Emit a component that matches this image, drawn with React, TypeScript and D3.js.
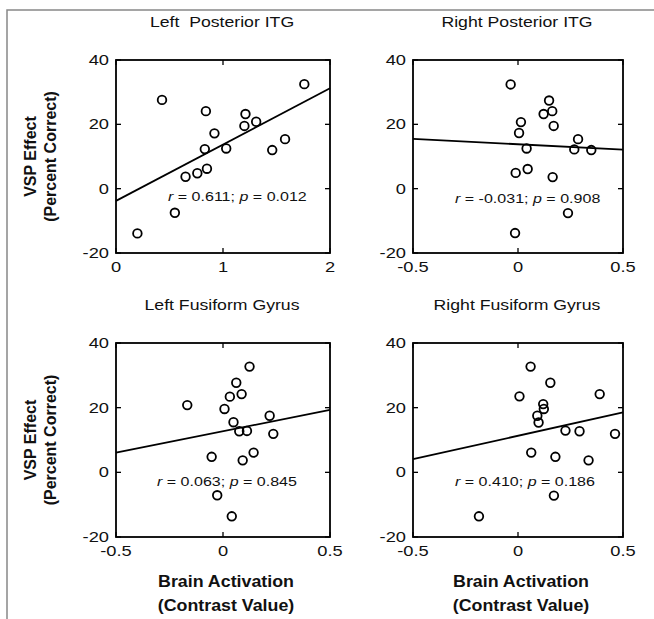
import * as d3 from 'd3'

// panel titles and stats
const titles = ['Left  Posterior ITG', 'Right Posterior ITG', 'Left Fusiform Gyrus', 'Right Fusiform Gyrus']
const rValues = ['0.611', '-0.031', '0.063', '0.410']
const pValues = ['0.012', '0.908', '0.845', '0.186']

// x domains / ticks
const xDomains: [number, number][] = [[0, 2], [-0.5, 0.5], [-0.5, 0.5], [-0.5, 0.5]]
const xTickSets = [[0, 1, 2], [-0.5, 0, 0.5], [-0.5, 0, 0.5], [-0.5, 0, 0.5]]
const yTicks = [-20, 0, 20, 40]

// brain activation (x) and VSP effect (y), per panel
const lpX = [0.20, 0.43, 0.55, 0.65, 0.76, 0.85, 0.83, 0.84, 0.92, 1.03, 1.20, 1.21, 1.31, 1.46, 1.58, 1.76]
const lpY = [-13.9, 27.6, -7.5, 3.7, 4.8, 6.2, 12.3, 24.1, 17.2, 12.5, 19.5, 23.2, 20.8, 12.0, 15.4, 32.5]
const rpX = [-0.035, 0.014, 0.005, 0.041, -0.011, 0.046, -0.014, 0.122, 0.148, 0.163, 0.17, 0.165, 0.238, 0.268, 0.286, 0.349]
const rpY = [32.4, 20.7, 17.3, 12.5, 4.9, 6.1, -13.8, 23.2, 27.4, 24.1, 19.5, 3.6, -7.6, 12.2, 15.4, 12.0]
const lfX = [-0.167, 0.124, 0.062, 0.087, 0.032, 0.007, 0.049, 0.076, 0.112, 0.218, 0.235, -0.053, 0.092, 0.143, -0.027, 0.041]
const lfY = [20.8, 32.7, 27.7, 24.2, 23.4, 19.6, 15.5, 12.7, 12.8, 17.5, 11.9, 4.8, 3.7, 6.1, -7.1, -13.6]
const rfX = [0.06, 0.007, 0.154, 0.12, 0.123, 0.092, 0.098, 0.226, 0.293, 0.462, 0.389, 0.063, 0.178, 0.336, 0.171, -0.186]
const rfY = [32.7, 23.5, 27.7, 21.1, 19.6, 17.5, 15.4, 12.9, 12.7, 11.9, 24.2, 6.1, 4.8, 3.7, -7.2, -13.6]

// fitted lines: intercept / slope
const intercepts = [-3.8, 13.8, 12.7, 11.3]
const slopes = [17.5, -3.3, 13.2, 14.5]

const xs = [lpX, rpX, lfX, rfX]
const ys = [lpY, rpY, lfY, rfY]

// layout
const cols = [{ left: 116, width: 214 }, { left: 413, width: 210 }]
const rows = [{ top: 60, height: 193 }, { top: 343, height: 194 }]
const statPos = [[168, 201], [455, 203], [157, 486], [455, 486]]

const FONT = '"Liberation Sans", Arial, Helvetica, sans-serif'

// the figure is stretched sideways, so horizontal text gets a scaleX
function HText({ x, y, sx, anchor = 'start', size, bold = false, children }: any) {
  return (
    <text
      transform={`translate(${x},${y}) scale(${sx},1)`}
      textAnchor={anchor}
      fontSize={size}
      fontWeight={bold ? 'bold' : 'normal'}
      fill="#111"
      style={{ whiteSpace: 'pre' }}
    >
      {children}
    </text>
  )
}

function Panel({ i }: { i: number }) {
  const c = cols[i % 2]
  const r = rows[Math.floor(i / 2)]
  const x = d3.scaleLinear().domain(xDomains[i]).range([c.left, c.left + c.width])
  const y = d3.scaleLinear().domain([-20, 40]).range([r.top + r.height, r.top])
  const pts = xs[i].map((v, k) => [v, ys[i][k]])
  const [x0, x1] = xDomains[i]
  const line = d3.line<number>().x(d => x(d)).y(d => y(intercepts[i] + slopes[i] * d))
  const tk = 5
  const right = c.left + c.width
  const bottom = r.top + r.height
  return (
    <g fontFamily={FONT}>
      <HText x={c.left + c.width / 2 - 1} y={r.top - 33} sx={1.28} anchor="middle" size={13.8}>
        {titles[i]}
      </HText>
      {yTicks.map(t => (
        <g key={'y' + t}>
          <line x1={c.left} x2={c.left + tk} y1={y(t)} y2={y(t)} stroke="#000" strokeWidth={1.3} />
          <line x1={right} x2={right - tk} y1={y(t)} y2={y(t)} stroke="#000" strokeWidth={1.3} />
          <HText x={c.left - 7} y={y(t) + 5} sx={1.28} anchor="end" size={14.3}>{t}</HText>
        </g>
      ))}
      {xTickSets[i].map(t => (
        <g key={'x' + t}>
          <line x1={x(t)} x2={x(t)} y1={bottom} y2={bottom - tk} stroke="#000" strokeWidth={1.3} />
          <line x1={x(t)} x2={x(t)} y1={r.top} y2={r.top + tk} stroke="#000" strokeWidth={1.3} />
          <HText x={x(t)} y={bottom + 19} sx={1.28} anchor="middle" size={14.3}>{t}</HText>
        </g>
      ))}
      <path d={line([x0, x1]) || ''} stroke="#000" strokeWidth={1.8} fill="none" />
      {pts.map(([px, py], k) => (
        <circle key={k} cx={x(px)} cy={y(py)} r={4.3} fill="none" stroke="#000" strokeWidth={1.8} />
      ))}
      <HText x={statPos[i][0]} y={statPos[i][1]} sx={1.17} size={13.7}>
        <tspan fontStyle="italic">r</tspan> = {rValues[i]}; <tspan fontStyle="italic">p</tspan> = {pValues[i]}
      </HText>
      <rect x={c.left} y={r.top} width={c.width} height={r.height} fill="none" stroke="#000" strokeWidth={1.8} />
    </g>
  )
}

export default function App() {
  return (
    <svg width={654} height={619} style={{ position: 'absolute', left: 0, top: 0, background: '#fff' }}>
      <rect x={0} y={0} width={654} height={619} fill="#fff" />
      <path d="M7,619 V10 H654" stroke="#888" strokeWidth={1.5} fill="none" />
      {[0, 1, 2, 3].map(i => <Panel key={i} i={i} />)}
      {rows.map((r, k) => (
        <g key={'yl' + k} fontFamily={FONT} fontWeight="bold" fontSize={16} fill="#111" textAnchor="middle">
          <text transform={`translate(36,${r.top + r.height / 2}) rotate(-90)`}>VSP Effect</text>
          <text transform={`translate(56,${r.top + r.height / 2}) rotate(-90)`}>(Percent Correct)</text>
        </g>
      ))}
      {cols.map((c, k) => (
        <g key={'xl' + k} fontFamily={FONT}>
          <HText x={c.left + c.width / 2 + 3} y={587} sx={1.08} anchor="middle" size={16.5} bold>Brain Activation</HText>
          <HText x={c.left + c.width / 2 + 3} y={611} sx={1.08} anchor="middle" size={16.5} bold>(Contrast Value)</HText>
        </g>
      ))}
    </svg>
  )
}
